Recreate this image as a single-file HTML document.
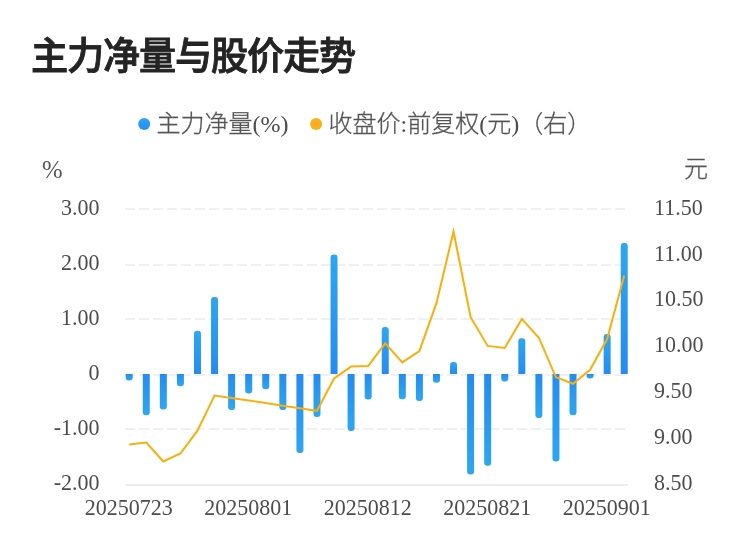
<!DOCTYPE html>
<html lang="zh-CN"><head><meta charset="utf-8"><title>主力净量与股价走势</title>
<style>
html,body{margin:0;padding:0;background:#fff;}
body{width:750px;height:558px;position:relative;overflow:hidden;font-family:"Liberation Serif","Noto Sans CJK SC",serif;color:#4c4c4c;}
.plot{position:absolute;left:0;top:0;}
.t{position:absolute;white-space:nowrap;line-height:1;transform-origin:0 100%;}
.c{font-family:"Noto Sans CJK SC",sans-serif;font-weight:300;-webkit-text-stroke:0.3px #555;color:#555;}
.title{left:31.4px;top:39.2px;font-size:36.5px;letter-spacing:-1.2px;font-weight:500;-webkit-text-stroke:0.85px #242424;color:#242424;font-family:"Liberation Sans","Noto Sans CJK SC",sans-serif;transform:scale(1.02,1.04);transform-origin:0 50%;}
.lg{font-size:24px;}
.ax{font-size:22px;transform:scaleY(1.045);}
.yl{right:650.5px;text-align:right;transform-origin:100% 100%;}
.yr{left:654px;}
.xl{transform:translateX(-50%) scaleY(1.045);}
</style></head><body>

<svg class="plot" width="750" height="558" viewBox="0 0 750 558">
<defs><linearGradient id="gu" x1="0" y1="0" x2="0" y2="1"><stop offset="0" stop-color="#2ea7ee"/><stop offset="1" stop-color="#258bf0"/></linearGradient><linearGradient id="gd" x1="0" y1="0" x2="0" y2="1"><stop offset="0" stop-color="#258bf0"/><stop offset="1" stop-color="#2ea7ee"/></linearGradient><linearGradient id="gdot" x1="0" y1="0" x2="0" y2="1"><stop offset="0" stop-color="#2ea4f2"/><stop offset="1" stop-color="#2a8ef2"/></linearGradient></defs>
<line x1="125" x2="628" y1="209.0" y2="209.0" stroke="#f0f0f0" stroke-width="2" stroke-dasharray="10 4"/>
<line x1="125" x2="628" y1="265.0" y2="265.0" stroke="#f0f0f0" stroke-width="2" stroke-dasharray="10 4"/>
<line x1="125" x2="628" y1="319.0" y2="319.0" stroke="#f0f0f0" stroke-width="2" stroke-dasharray="10 4"/>
<line x1="125" x2="628" y1="375.0" y2="375.0" stroke="#f0f0f0" stroke-width="2" stroke-dasharray="10 4"/>
<line x1="125" x2="628" y1="429.0" y2="429.0" stroke="#f0f0f0" stroke-width="2" stroke-dasharray="10 4"/>
<line x1="125" x2="628" y1="485.0" y2="485.0" stroke="#ededed" stroke-width="2"/>
<path fill="url(#gd)" d="M125.70 374.00V377.40Q125.70 380.40 128.70 380.40H129.70Q132.70 380.40 132.70 377.40V374.00Z"/>
<path fill="url(#gd)" d="M142.77 374.00V412.20Q142.77 415.20 145.77 415.20H146.77Q149.77 415.20 149.77 412.20V374.00Z"/>
<path fill="url(#gd)" d="M159.84 374.00V406.50Q159.84 409.50 162.84 409.50H163.84Q166.84 409.50 166.84 406.50V374.00Z"/>
<path fill="url(#gd)" d="M176.91 374.00V383.20Q176.91 386.20 179.91 386.20H180.91Q183.91 386.20 183.91 383.20V374.00Z"/>
<path fill="url(#gu)" d="M193.98 374.00V333.80Q193.98 330.80 196.98 330.80H197.98Q200.98 330.80 200.98 333.80V374.00Z"/>
<path fill="url(#gu)" d="M211.05 374.00V300.00Q211.05 297.00 214.05 297.00H215.05Q218.05 297.00 218.05 300.00V374.00Z"/>
<path fill="url(#gd)" d="M228.12 374.00V406.90Q228.12 409.90 231.12 409.90H232.12Q235.12 409.90 235.12 406.90V374.00Z"/>
<path fill="url(#gd)" d="M245.19 374.00V390.40Q245.19 393.40 248.19 393.40H249.19Q252.19 393.40 252.19 390.40V374.00Z"/>
<path fill="url(#gd)" d="M262.26 374.00V386.30Q262.26 389.30 265.26 389.30H266.26Q269.26 389.30 269.26 386.30V374.00Z"/>
<path fill="url(#gd)" d="M279.33 374.00V407.10Q279.33 410.10 282.33 410.10H283.33Q286.33 410.10 286.33 407.10V374.00Z"/>
<path fill="url(#gd)" d="M296.40 374.00V450.00Q296.40 453.00 299.40 453.00H300.40Q303.40 453.00 303.40 450.00V374.00Z"/>
<path fill="url(#gd)" d="M313.47 374.00V414.10Q313.47 417.10 316.47 417.10H317.47Q320.47 417.10 320.47 414.10V374.00Z"/>
<path fill="url(#gu)" d="M330.54 374.00V257.40Q330.54 254.40 333.54 254.40H334.54Q337.54 254.40 337.54 257.40V374.00Z"/>
<path fill="url(#gd)" d="M347.61 374.00V428.00Q347.61 431.00 350.61 431.00H351.61Q354.61 431.00 354.61 428.00V374.00Z"/>
<path fill="url(#gd)" d="M364.68 374.00V396.60Q364.68 399.60 367.68 399.60H368.68Q371.68 399.60 371.68 396.60V374.00Z"/>
<path fill="url(#gu)" d="M381.75 374.00V330.00Q381.75 327.00 384.75 327.00H385.75Q388.75 327.00 388.75 330.00V374.00Z"/>
<path fill="url(#gd)" d="M398.82 374.00V396.30Q398.82 399.30 401.82 399.30H402.82Q405.82 399.30 405.82 396.30V374.00Z"/>
<path fill="url(#gd)" d="M415.89 374.00V397.90Q415.89 400.90 418.89 400.90H419.89Q422.89 400.90 422.89 397.90V374.00Z"/>
<path fill="url(#gd)" d="M432.96 374.00V379.80Q432.96 382.80 435.96 382.80H436.96Q439.96 382.80 439.96 379.80V374.00Z"/>
<path fill="url(#gu)" d="M450.03 374.00V365.00Q450.03 362.00 453.03 362.00H454.03Q457.03 362.00 457.03 365.00V374.00Z"/>
<path fill="url(#gd)" d="M467.10 374.00V471.60Q467.10 474.60 470.10 474.60H471.10Q474.10 474.60 474.10 471.60V374.00Z"/>
<path fill="url(#gd)" d="M484.17 374.00V462.80Q484.17 465.80 487.17 465.80H488.17Q491.17 465.80 491.17 462.80V374.00Z"/>
<path fill="url(#gd)" d="M501.24 374.00V378.40Q501.24 381.40 504.24 381.40H505.24Q508.24 381.40 508.24 378.40V374.00Z"/>
<path fill="url(#gu)" d="M518.31 374.00V341.30Q518.31 338.30 521.31 338.30H522.31Q525.31 338.30 525.31 341.30V374.00Z"/>
<path fill="url(#gd)" d="M535.38 374.00V414.90Q535.38 417.90 538.38 417.90H539.38Q542.38 417.90 542.38 414.90V374.00Z"/>
<path fill="url(#gd)" d="M552.45 374.00V458.40Q552.45 461.40 555.45 461.40H556.45Q559.45 461.40 559.45 458.40V374.00Z"/>
<path fill="url(#gd)" d="M569.52 374.00V412.20Q569.52 415.20 572.52 415.20H573.52Q576.52 415.20 576.52 412.20V374.00Z"/>
<path fill="url(#gd)" d="M586.59 374.00V375.50Q586.59 378.50 589.59 378.50H590.59Q593.59 378.50 593.59 375.50V374.00Z"/>
<path fill="url(#gu)" d="M603.66 374.00V337.10Q603.66 334.10 606.66 334.10H607.66Q610.66 334.10 610.66 337.10V374.00Z"/>
<path fill="url(#gu)" d="M620.73 374.00V246.10Q620.73 243.10 623.73 243.10H624.73Q627.73 243.10 627.73 246.10V374.00Z"/>
<polyline fill="none" stroke="#f8b00e" stroke-width="2.05" stroke-linejoin="miter" stroke-miterlimit="10" points="129.20,444.50 146.27,442.60 163.34,461.40 180.41,453.50 197.48,430.60 214.55,395.50 231.62,398.00 248.69,400.40 265.76,403.00 282.83,405.70 299.90,408.20 316.97,410.80 334.04,378.50 351.11,366.60 368.18,365.90 385.25,343.40 402.32,362.40 419.39,351.00 436.46,303.20 453.53,231.50 470.60,317.20 487.67,345.90 504.74,348.00 521.81,318.90 538.88,337.70 555.95,377.30 573.02,383.80 590.09,369.80 607.16,339.00 624.23,275.60"/>
<circle cx="144.2" cy="124" r="6" fill="url(#gdot)"/>
<circle cx="316.1" cy="124" r="6" fill="#f9b01c"/>
</svg>
<div class="t title">主力净量与股价走势</div>
<div class="t lg" style="left:156.5px;top:109.7px;"><span class="c">主力净量</span>(%)</div>
<div class="t lg" style="left:328.5px;top:109.7px;"><span class="c">收盘价</span>:<span class="c">前复权</span>(<span class="c">元</span>)<span class="c">（右）</span></div>
<div class="t lg" style="left:42.3px;top:157.8px;color:#555;transform:scale(1.03,1.08);">%</div>
<div class="t lg" style="left:684px;top:154.6px;"><span class="c">元</span></div>
<div class="t ax yl" style="top:196.7px;">3.00</div>
<div class="t ax yl" style="top:251.7px;">2.00</div>
<div class="t ax yl" style="top:306.7px;">1.00</div>
<div class="t ax yl" style="top:361.7px;">0</div>
<div class="t ax yl" style="top:416.7px;">-1.00</div>
<div class="t ax yl" style="top:471.7px;">-2.00</div>
<div class="t ax yr" style="top:196.7px;">11.50</div>
<div class="t ax yr" style="top:242.7px;">11.00</div>
<div class="t ax yr" style="top:287.7px;">10.50</div>
<div class="t ax yr" style="top:333.7px;">10.00</div>
<div class="t ax yr" style="top:379.7px;">9.50</div>
<div class="t ax yr" style="top:425.7px;">9.00</div>
<div class="t ax yr" style="top:471.7px;">8.50</div>
<div class="t ax xl" style="left:128.7px;top:497.1px;">20250723</div>
<div class="t ax xl" style="left:248.2px;top:497.1px;">20250801</div>
<div class="t ax xl" style="left:367.7px;top:497.1px;">20250812</div>
<div class="t ax xl" style="left:487.2px;top:497.1px;">20250821</div>
<div class="t ax xl" style="left:606.7px;top:497.1px;">20250901</div>
</body></html>
